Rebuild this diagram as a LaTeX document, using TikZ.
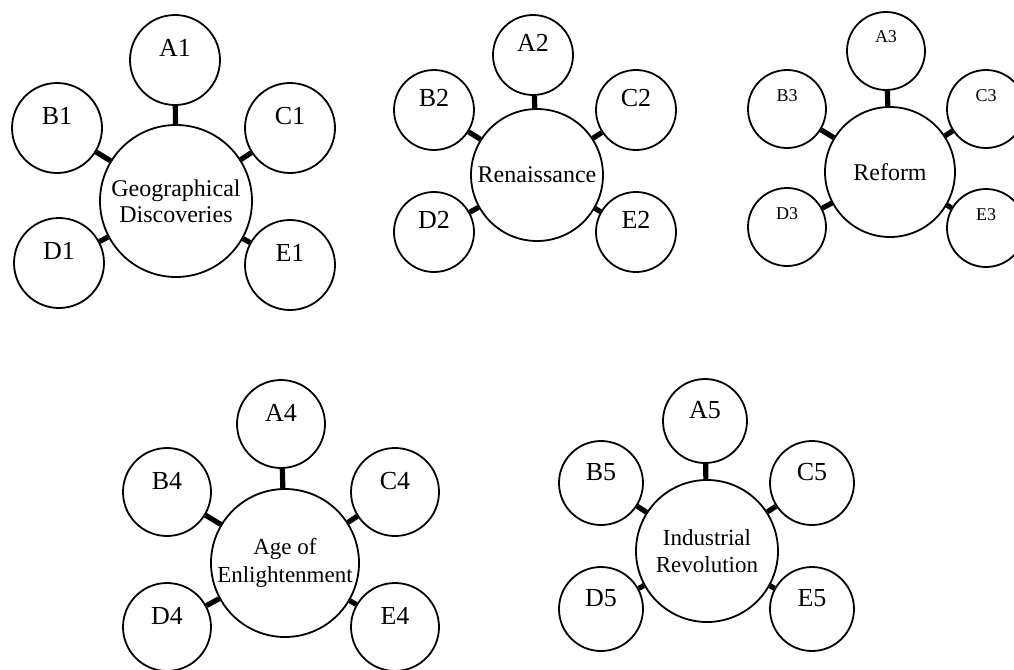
\documentclass[tikz,border=0pt]{standalone}
\usepackage{fontspec}
\setmainfont{Liberation Serif}
\usetikzlibrary{positioning}
\tikzset{
  topic/.style={circle,draw=black,line width=0.9pt,inner sep=0pt,
                align=center,font=\fontsize{12}{13}\selectfont},
  satellite/.style={circle,draw=black,line width=0.9pt,inner sep=1pt,
                    text depth=12pt,font=\fontsize{13}{15}\selectfont},
  stem/.style={line width=2.6pt,black},
}

\begin{document}
\begin{tikzpicture}[x=0.5pt,y=-0.5pt]
  \useasboundingbox[fill=white] (0,0) rectangle (1014,670);

  % ---- Geographical Discoveries ----
  \node[topic,minimum size=76pt] (geo) at (176,201) {Geographical\\Discoveries};
  \node[satellite,minimum size=45pt] (A1) at (175,60)  {A1};
  \node[satellite,minimum size=45pt] (B1) at (57,128)  {B1};
  \node[satellite,minimum size=45pt] (C1) at (290,128) {C1};
  \node[satellite,minimum size=45pt] (D1) at (59,263)  {D1};
  \node[satellite,minimum size=45pt] (E1) at (290,265) {E1};

  % ---- Renaissance ----
  \node[topic,minimum size=66pt] (ren) at (537,175) {Renaissance};
  \node[satellite,minimum size=40pt] (A2) at (533,55)  {A2};
  \node[satellite,minimum size=40pt] (B2) at (434,110) {B2};
  \node[satellite,minimum size=40pt] (C2) at (636,110) {C2};
  \node[satellite,minimum size=40pt] (D2) at (434,232) {D2};
  \node[satellite,minimum size=40pt] (E2) at (636,232) {E2};

  % ---- Reform ----
  \node[topic,minimum size=65pt] (ref) at (890,172) {Reform};
  \node[satellite,minimum size=39pt,text depth=14pt,font=\fontsize{9}{11}\selectfont]
    (A3) at (886,51)  {A3};
  \node[satellite,minimum size=39pt,text depth=13pt,font=\fontsize{9}{11}\selectfont]
    (B3) at (787,109) {B3};
  \node[satellite,minimum size=39pt,text depth=13pt,font=\fontsize{9}{11}\selectfont]
    (C3) at (986,109) {C3};
  \node[satellite,minimum size=39pt,text depth=13pt,font=\fontsize{9}{11}\selectfont]
    (D3) at (787,227) {D3};
  \node[satellite,minimum size=39pt,text depth=13pt,font=\fontsize{9}{11}\selectfont]
    (E3) at (986,228) {E3};

  % ---- Age of Enlightenment ----
  \node[topic,minimum size=74pt,font=\fontsize{11.5}{14}\selectfont]
    (enl) at (285,563) {Age of\\Enlightenment};
  \node[satellite,minimum size=44pt,text depth=11pt] (A4) at (281,424) {A4};
  \node[satellite,minimum size=44pt,text depth=11pt] (B4) at (167,492) {B4};
  \node[satellite,minimum size=44pt,text depth=11pt] (C4) at (395,492) {C4};
  \node[satellite,minimum size=44pt,text depth=11pt] (D4) at (167,627) {D4};
  \node[satellite,minimum size=44pt,text depth=11pt] (E4) at (395,627) {E4};

  % ---- Industrial Revolution ----
  \node[topic,minimum size=71pt,font=\fontsize{11.5}{13.5}\selectfont]
    (ind) at (707,551) {Industrial\\Revolution};
  \node[satellite,minimum size=42pt,text depth=11pt] (A5) at (705,421) {A5};
  \node[satellite,minimum size=42pt,text depth=11pt] (B5) at (601,483) {B5};
  \node[satellite,minimum size=42pt,text depth=11pt] (C5) at (812,483) {C5};
  \node[satellite,minimum size=42pt,text depth=11pt] (D5) at (601,609) {D5};
  \node[satellite,minimum size=42pt,text depth=11pt] (E5) at (812,609) {E5};

  % ---- Thick stems from each topic to its satellites ----
  \draw[stem] (A1) -- (geo); \draw[stem] (B1) -- (geo); \draw[stem] (C1) -- (geo);
  \draw[stem] (D1) -- (geo); \draw[stem] (E1) -- (geo);
  \draw[stem] (A2) -- (ren); \draw[stem] (B2) -- (ren); \draw[stem] (C2) -- (ren);
  \draw[stem] (D2) -- (ren); \draw[stem] (E2) -- (ren);
  \draw[stem] (A3) -- (ref); \draw[stem] (B3) -- (ref); \draw[stem] (C3) -- (ref);
  \draw[stem] (D3) -- (ref); \draw[stem] (E3) -- (ref);
  \draw[stem] (A4) -- (enl); \draw[stem] (B4) -- (enl); \draw[stem] (C4) -- (enl);
  \draw[stem] (D4) -- (enl); \draw[stem] (E4) -- (enl);
  \draw[stem] (A5) -- (ind); \draw[stem] (B5) -- (ind); \draw[stem] (C5) -- (ind);
  \draw[stem] (D5) -- (ind); \draw[stem] (E5) -- (ind);
\end{tikzpicture}
\end{document}
